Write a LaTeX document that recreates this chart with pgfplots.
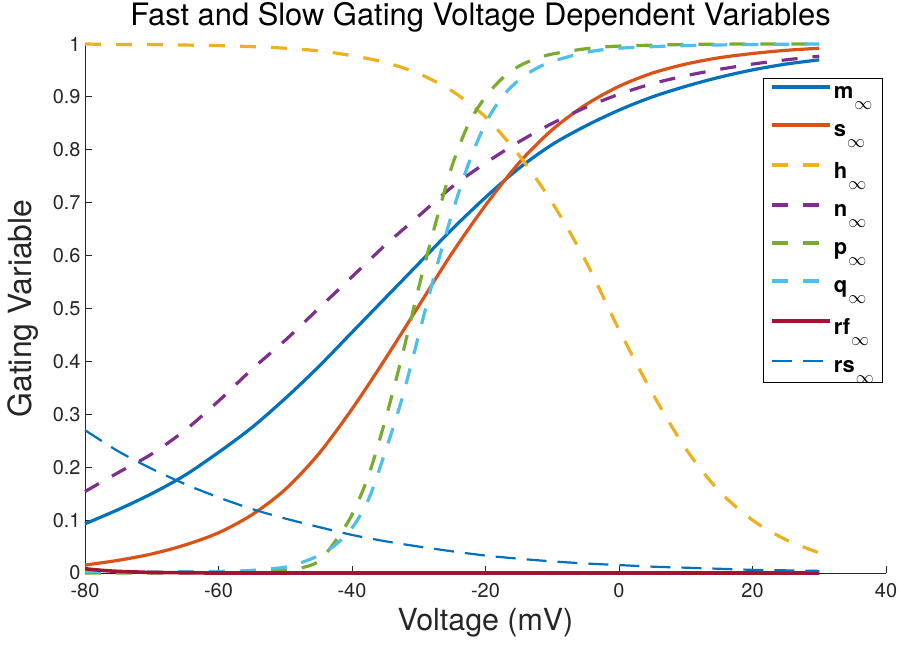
\documentclass[border=0pt]{standalone}
\usepackage{pgfplots}
\pgfplotsset{compat=1.18}
\usepackage{graphicx}
\usepackage{fontspec}
\setmainfont{TeX Gyre Heros}
\definecolor{mblue}{RGB}{0,114,189}
\definecolor{sorange}{RGB}{217,83,25}
\definecolor{hyellow}{RGB}{237,177,32}
\definecolor{npurple}{RGB}{126,47,142}
\definecolor{pgreen}{RGB}{119,172,48}
\definecolor{qcyan}{RGB}{77,190,238}
\definecolor{rfred}{RGB}{162,20,47}
\definecolor{axgray}{gray}{0.15}
\newcommand{\infsub}{\kern1bp\raisebox{-11.5bp}{\resizebox{18bp}{!}{$\infty$}}}
\begin{document}
\begin{tikzpicture}
\path[use as bounding box] (-85bp,-74bp) rectangle (814bp,573bp);
\begin{axis}[
  scale only axis, width=801bp, height=529bp,
  xmin=-80, xmax=40, ymin=0, ymax=1,
  axis x line=bottom, axis y line=left,
  axis line style={-, draw=axgray, line width=0.8bp},
  tick align=inside, major tick length=7bp,
  tick style={draw=axgray, line width=0.8bp},
  xtick={-80,-60,-40,-20,0,20,40},
  ytick={0,0.1,0.2,0.3,0.4,0.5,0.6,0.7,0.8,0.9,1},
  yticklabels={0,0.1,0.2,0.3,0.4,0.5,0.6,0.7,0.8,0.9,1},
  /pgf/number format/assume math mode=true,
  ticklabel style={font=\fontsize{20}{24}\selectfont, text=axgray},
  xticklabel style={yshift=-7bp},
  yticklabel style={xshift=-1bp},
  title={Fast and Slow Gating Voltage Dependent Variables},
  title style={font=\fontsize{31}{36}\selectfont, at={(axis description cs:0.5,1.0236)}, anchor=base, xshift=-5bp},
  xlabel={Voltage (mV)},
  xlabel style={font=\fontsize{30.5}{34}\selectfont, text=axgray, at={(axis description cs:0.5,-0.1078)}, anchor=base},
  ylabel={Gating Variable},
  ylabel style={font=\fontsize{32}{36}\selectfont, text=axgray, at={(axis description cs:-0.0662,0.5)}, anchor=base},
  clip=false,
  legend style={at={(rel axis cs:0.9963,0.9357)}, anchor=north east,
    draw=black, line width=0.6bp, font=\fontsize{22}{26}\bfseries,
    row sep=20.5bp, inner xsep=7bp, inner ysep=6bp},
  legend cell align=left,
  legend image code/.code={\draw[#1] (0bp,6bp) -- (58bp,6bp);},
  every axis plot/.append style={smooth, tension=0.5},
]
% m_inf
\addplot[mblue, line width=3.2bp] coordinates {
(-80,0.093) (-75,0.12) (-70,0.15) (-65,0.185) (-60,0.228) (-55,0.275) (-50,0.33) (-45,0.39) (-40,0.455) (-35,0.52) (-30,0.585) (-25,0.65) (-20,0.71) (-15,0.765) (-10,0.81) (-5,0.845) (0,0.875) (5,0.90) (10,0.92) (15,0.937) (20,0.951) (25,0.962) (30,0.970)};
\addlegendentry{m\infsub}
% s_inf
\addplot[sorange, line width=3.2bp] coordinates {
(-80,0.015) (-75,0.024) (-70,0.036) (-65,0.053) (-60,0.076) (-55,0.11) (-50,0.158) (-45,0.225) (-40,0.31) (-35,0.405) (-30,0.505) (-25,0.605) (-20,0.695) (-15,0.775) (-10,0.838) (-5,0.885) (0,0.92) (5,0.945) (10,0.962) (15,0.974) (20,0.982) (25,0.988) (30,0.992)};
\addlegendentry{s\infsub}
% h_inf
\addplot[hyellow, line width=3.2bp, dash pattern=on 16bp off 15bp] coordinates {
(-80,1.0) (-75,0.999) (-70,0.999) (-65,0.998) (-60,0.997) (-55,0.995) (-50,0.992) (-45,0.987) (-40,0.978) (-35,0.965) (-30,0.944) (-25,0.911) (-20,0.862) (-15,0.79) (-10,0.70) (-5,0.59) (0,0.46) (5,0.34) (10,0.235) (15,0.155) (20,0.10) (25,0.063) (30,0.038)};
\addlegendentry{h\infsub}
% n_inf
\addplot[npurple, line width=3.2bp, dash pattern=on 16bp off 15bp] coordinates {
(-80,0.154) (-75,0.19) (-70,0.225) (-65,0.27) (-60,0.325) (-55,0.385) (-50,0.44) (-45,0.50) (-40,0.56) (-35,0.62) (-30,0.675) (-25,0.73) (-20,0.775) (-15,0.815) (-10,0.85) (-5,0.88) (0,0.905) (5,0.925) (10,0.94) (15,0.952) (20,0.962) (25,0.970) (30,0.977)};
\addlegendentry{n\infsub}
% p_inf
\addplot[pgreen, line width=3.2bp, dash pattern=on 16bp off 15bp] coordinates {
(-80,0.0) (-70,0.0) (-60,0.0005) (-55,0.002) (-50,0.005) (-47.5,0.01) (-45,0.022) (-42.5,0.06) (-40,0.11) (-37.5,0.185) (-35,0.29) (-32.5,0.41) (-30,0.54) (-27.5,0.66) (-25,0.77) (-22.5,0.85) (-20,0.90) (-17.5,0.935) (-15,0.958) (-12.5,0.972) (-10,0.981) (-5,0.991) (0,0.996) (10,0.999) (20,1.0) (30,1.0)};
\addlegendentry{p\infsub}
% q_inf
\addplot[qcyan, line width=3.2bp, dash pattern=on 16bp off 15bp] coordinates {
(-80,0.003) (-70,0.002) (-60,0.003) (-55,0.005) (-50,0.011) (-47.5,0.02) (-45,0.033) (-42.5,0.053) (-40,0.085) (-37.5,0.14) (-35,0.23) (-32.5,0.33) (-30,0.45) (-27.5,0.57) (-25,0.68) (-22.5,0.775) (-20,0.85) (-17.5,0.90) (-15,0.932) (-12.5,0.953) (-10,0.967) (-5,0.984) (0,0.992) (10,0.997) (20,0.999) (30,1.0)};
\addlegendentry{q\infsub}
% rf_inf
\addplot[rfred, line width=3.6bp] coordinates {
(-80,0.008) (-77.5,0.005) (-75,0.003) (-72.5,0.002) (-70,0.001) (-65,0.0005) (-60,0.0) (-40,0.0) (-20,0.0) (0,0.0) (20,0.0) (30,0.0)};
\addlegendentry{rf\infsub}
% rs_inf
\addplot[mblue, line width=2.2bp, dash pattern=on 20bp off 11bp] coordinates {
(-80,0.27) (-75,0.23) (-70,0.197) (-65,0.168) (-60,0.143) (-55,0.121) (-50,0.103) (-45,0.087) (-40,0.072) (-35,0.060) (-30,0.050) (-25,0.041) (-20,0.033) (-15,0.027) (-10,0.022) (-5,0.018) (0,0.015) (5,0.012) (10,0.010) (15,0.008) (20,0.006) (25,0.005) (30,0.004)};
\addlegendentry{rs\infsub}
\end{axis}
\end{tikzpicture}
\end{document}
